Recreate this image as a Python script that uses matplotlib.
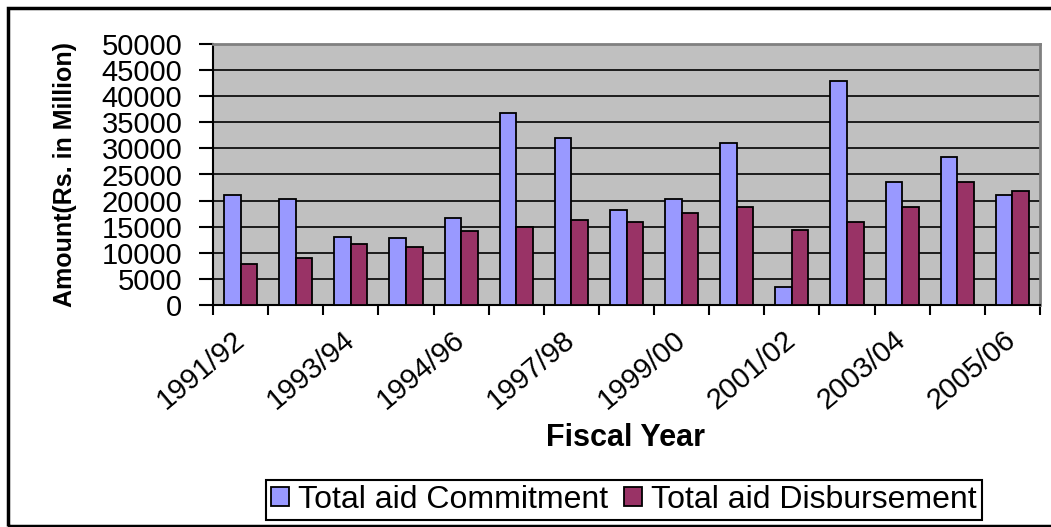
import numpy as np
import matplotlib
matplotlib.use("Agg")
import matplotlib.pyplot as plt
from matplotlib.patches import Rectangle
from matplotlib.transforms import ScaledTranslation

plt.rcParams["font.family"] = ["Liberation Sans", "DejaVu Sans"]

# datos
years = ["1991/92", "1992/93", "1993/94", "1994/95", "1994/96", "1996/97", "1997/98",
         "1998/99", "1999/00", "2000/01", "2001/02", "2002/03", "2003/04", "2004/05", "2005/06"]
commitment = [21000, 20300, 13100, 12800, 16600, 36700, 32000, 18200,
              20300, 31100, 3400, 43000, 23500, 28300, 21000]
disbursement = [7800, 9000, 11600, 11200, 14200, 15000, 16300, 15900,
                17600, 18800, 14400, 15900, 18800, 23500, 21900]

fig = plt.figure(figsize=(10.51, 5.27), dpi=100)
ax = fig.add_axes([213/1051, 1 - 305/527, 827/1051, 261/527])
ax.set_facecolor("#C0C0C0")

x = np.arange(len(years))
w = 0.3
ax.bar(x - w/2, commitment, w, color="#9999FF", edgecolor="black", linewidth=1.3,
       label="Total aid Commitment", zorder=3)
ax.bar(x + w/2, disbursement, w, color="#993366", edgecolor="black", linewidth=1.3,
       label="Total aid Disbursement", zorder=3)

ax.set_xlim(-0.5, len(years) - 0.5)
ax.set_ylim(0, 50000)
ax.set_yticks(range(0, 50001, 5000))
ax.yaxis.grid(True, color="black", linewidth=1.2, zorder=1)
ax.set_axisbelow(True)

# ticks en los bordes de categoria, etiquetas cada dos anos
ax.set_xticks(np.arange(-0.5, len(years)), minor=False)
ax.set_xticklabels([])
ax.set_xticks(x[::2], minor=True)
ax.set_xticklabels(years[::2], minor=True, rotation=40, ha="right",
                   rotation_mode="anchor", fontsize=21)
ax.tick_params(axis="x", which="major", direction="out", length=7, width=1.5)
ax.tick_params(axis="x", which="minor", length=0, pad=15)
ax.tick_params(axis="y", direction="out", length=10, width=1.5, labelsize=21, pad=12)
desplaza = ScaledTranslation(-9/100, 0, fig.dpi_scale_trans)
for lbl in ax.get_xticklabels(minor=True):
    lbl.set_transform(lbl.get_transform() + desplaza)

for s in ["top", "right"]:
    ax.spines[s].set_color("#808080")
    ax.spines[s].set_linewidth(2)
for s in ["left", "bottom"]:
    ax.spines[s].set_color("black")
    ax.spines[s].set_linewidth(1.5)

ax.set_ylabel("Amount(Rs. in Million)", fontsize=18, fontweight="bold")
ax.yaxis.set_label_coords(-0.165, 0.5)
fig.text(626/1051, 1 - 438/527, "Fiscal Year", fontsize=22, fontweight="bold",
         ha="center", va="center")

leg = fig.legend(loc="center", bbox_to_anchor=(624/1051, 1 - 500/527), ncol=2,
                 fontsize=23, frameon=True, fancybox=False, edgecolor="black",
                 framealpha=1, handlelength=0.55, handleheight=0.55, handletextpad=0.3,
                 columnspacing=0.5, borderpad=0.15, borderaxespad=0)
leg.get_frame().set_linewidth(1.5)

# marco exterior
fig.patches.append(Rectangle((8/1051, 1 - 526/527), 1.05, 518/527, transform=fig.transFigure,
                             fill=False, edgecolor="black", linewidth=2.5))

plt.savefig("out.png", dpi=100)
